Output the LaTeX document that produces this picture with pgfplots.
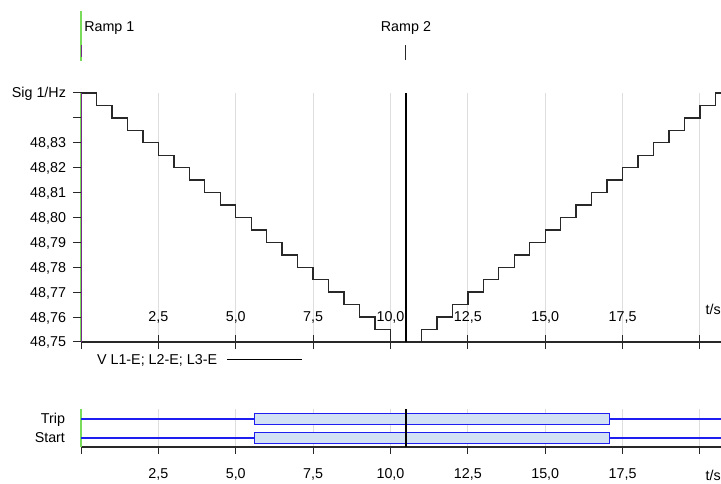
\documentclass[border=0pt]{standalone}
\usepackage{pgfplots}
\pgfplotsset{compat=1.18}
\usepackage{pgfplotstable}
\usepackage{fontspec}
\setmainfont{Liberation Sans}
\definecolor{axgreen}{RGB}{120,220,90}
\definecolor{axpurple}{RGB}{120,40,140}
\definecolor{stepc}{RGB}{40,40,40}
\definecolor{gridc}{RGB}{222,222,222}
\definecolor{boxblue}{RGB}{30,30,240}
\definecolor{boxfill}{RGB}{210,226,244}
\newcommand\f{\fontsize{14.3}{17}\selectfont}
\pgfplotstableread{
t f
0 48.85
0.5 48.845
1 48.84
1.5 48.835
2 48.83
2.5 48.825
3 48.82
3.5 48.815
4 48.81
4.5 48.805
5 48.80
5.5 48.795
6 48.79
6.5 48.785
7 48.78
7.5 48.775
8 48.77
8.5 48.765
9 48.76
9.5 48.755
10 48.75
11 48.755
11.5 48.76
12 48.765
12.5 48.77
13 48.775
13.5 48.78
14 48.785
14.5 48.79
15 48.795
15.5 48.80
16 48.805
16.5 48.81
17 48.815
17.5 48.82
18 48.825
18.5 48.83
19 48.835
19.5 48.84
20 48.845
20.5 48.85
20.68 48.85
}\sigdata
\begin{document}
\begin{tikzpicture}[font=\f]
% ---- marker strip (Ramp 1 / Ramp 2)
\begin{axis}[at={(81pt,422pt)}, anchor=south west, scale only axis,
  width=640pt, height=62pt, xmin=0, xmax=20.68, ymin=0, ymax=62,
  hide axis, clip=false]
\addplot[axgreen, line width=2pt] coordinates {(0,1) (0,51)};
\addplot[axpurple, line width=0.8pt] coordinates {(0,5) (0,17)};
\addplot[stepc, line width=1pt] coordinates {(10.5,2) (10.5,17)};
\node[anchor=west, inner sep=0pt] at (axis cs:0.1,34) {Ramp 1};
\node[anchor=center, inner sep=0pt] at (axis cs:10.5,34) {Ramp 2};
\end{axis}
% ---- top panel: signal
\begin{axis}[at={(81pt,142pt)}, anchor=south west, scale only axis,
  width=640pt, height=249pt,
  xmin=0, xmax=20.68, ymin=48.75, ymax=48.85,
  axis x line*=bottom, axis y line*=left,
  x axis line style={stepc, line width=1.2pt},
  y axis line style={axgreen, line width=2pt},
  xtick={0,2.5,5,7.5,10,12.5,15,17.5,20},
  xticklabels={{},{2,5},{5,0},{7,5},{10,0},{12,5},{15,0},{17,5},{}},
  xtick align=center, major tick length=14pt,
  ytick=\empty,
  tick style={stepc, line width=1pt},
  xticklabel style={anchor=base, yshift=27pt},
  xmajorgrids, grid style={gridc, line width=1pt},
  clip=false,
  legend style={at={(0.017,-0.072)}, anchor=west, draw=none, fill=none,
    legend plot pos=right, font=\f},
  ]
\addplot[const plot, stepc, line width=1.4pt,
  legend image code/.code={\path[draw=none] (0pt,0pt) -- (83pt,0pt); \draw[black, line width=1pt] (8pt,0pt) -- (83pt,0pt);}]
  table {\sigdata};
\addlegendentry{V L1-E; L2-E; L3-E}
\addplot[black, line width=1.3pt, forget plot] coordinates {(10.5,48.75) (10.5,48.85)};
\node[anchor=base east, inner sep=0pt, yshift=27pt] at (rel axis cs:1,0) {t/s};
\end{axis}
% ---- top panel: y ticks overlay
\begin{axis}[at={(81pt,142pt)}, anchor=south west, scale only axis,
  width=640pt, height=249pt,
  xmin=0, xmax=20.68, ymin=48.75, ymax=48.85,
  axis x line=none, axis y line*=left,
  y axis line style={draw=none},
  ytick={48.75,48.76,48.77,48.78,48.79,48.80,48.81,48.82,48.83,48.84,48.85},
  yticklabels={{48,75},{48,76},{48,77},{48,78},{48,79},{48,80},{48,81},{48,82},{48,83},{},{Sig 1/Hz}},
  ytick align=outside, major tick length=8pt,
  tick style={stepc, line width=1pt},
  yticklabel style={anchor=base east, yshift=-5pt, xshift=-3.5pt},
  clip=false]
\addplot[axpurple, line width=0.8pt] coordinates {(0,48.75) (0,48.85)};
\end{axis}
% ---- bottom panel: Trip / Start
\begin{axis}[at={(81pt,37pt)}, anchor=south west, scale only axis,
  width=640pt, height=38pt,
  xmin=0, xmax=20.68, ymin=0, ymax=38,
  axis x line*=bottom, axis y line*=left,
  x axis line style={stepc, line width=1.2pt},
  y axis line style={axgreen, line width=2pt},
  xtick={0,2.5,5,7.5,10,12.5,15,17.5,20},
  xticklabels={{},{2,5},{5,0},{7,5},{10,0},{12,5},{15,0},{17,5},{}},
  xtick align=outside, major tick length=7pt,
  ytick={9,28}, yticklabels={Start,Trip},
  ytick style={draw=none},
  ytick align=inside,
  xtick style={stepc, line width=1pt},
  xticklabel style={anchor=base, yshift=-25pt},
  yticklabel style={anchor=base east, yshift=-5pt, xshift=-12.5pt},
  xmajorgrids, grid style={gridc, line width=1pt},
  clip=false]
\addplot[boxblue, line width=1.2pt] coordinates {(0,28) (5.6,28)};
\addplot[boxblue, fill=boxfill, line width=1.2pt] coordinates {(5.6,22.5) (17.08,22.5) (17.08,33.5) (5.6,33.5) (5.6,22.5)};
\addplot[boxblue, line width=1.2pt] coordinates {(17.08,28) (20.68,28)};
\addplot[boxblue, line width=1.2pt] coordinates {(0,9) (5.6,9)};
\addplot[boxblue, fill=boxfill, line width=1.2pt] coordinates {(5.6,3.5) (17.08,3.5) (17.08,14.5) (5.6,14.5) (5.6,3.5)};
\addplot[boxblue, line width=1.2pt] coordinates {(17.08,9) (20.68,9)};
\addplot[black, line width=1.3pt] coordinates {(10.5,0) (10.5,38)};
\node[anchor=base east, inner sep=0pt, yshift=-34pt] at (rel axis cs:1,0) {t/s};
\end{axis}
\pgfresetboundingbox
\path (0pt,0pt) rectangle (721pt,484pt);
\end{tikzpicture}
\end{document}
